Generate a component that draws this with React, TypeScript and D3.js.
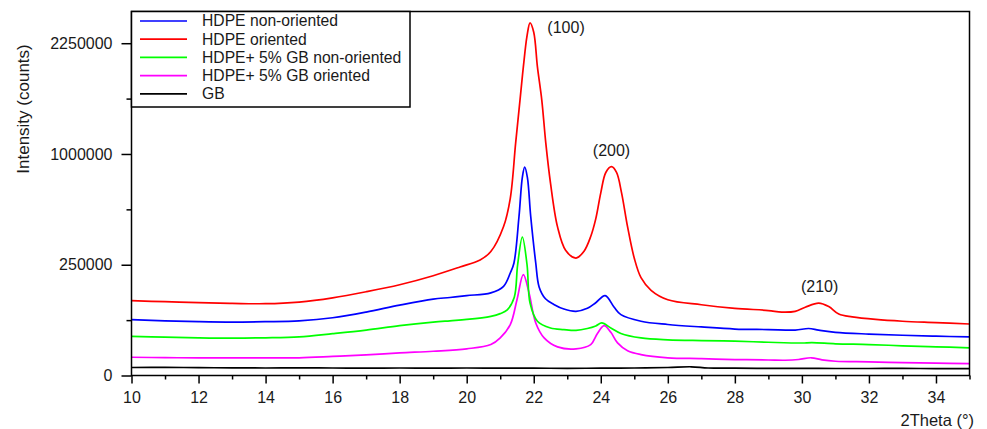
import React, { useEffect, useRef } from 'react';
import * as d3 from 'd3';

// 2Theta (°), intensity (counts)
const hdpeNonOriented: [number, number][] = [
  [10, 63600], [11, 61000], [12, 59000], [13, 58000], [14, 59000], [15, 61000], [16, 68000],
  [17, 82000], [18, 101000], [19, 119000], [19.5, 124000], [20, 130000], [20.72, 139000],
  [21.1, 162000], [21.3, 214000], [21.41, 258000], [21.56, 515000], [21.66, 800000],
  [21.73, 884000], [21.81, 800000], [21.91, 515000], [22.06, 258000], [22.16, 160000],
  [22.35, 120000], [22.6, 103000], [22.9, 90000], [23.26, 84000], [23.6, 92000], [23.85, 108000],
  [24.13, 130000], [24.4, 95000], [24.6, 75500], [25.2, 60000], [26, 53000], [27, 48000],
  [28, 44000], [29, 43000], [29.8, 42000], [30.2, 45000], [30.5, 42000], [31, 38000],
  [32, 35000], [33, 33000], [34, 31500], [35, 30400],
];

const hdpeOriented: [number, number][] = [
  [10, 114000], [11, 111000], [12, 108000], [13, 106000], [14, 105000], [15, 110000],
  [16, 123000], [17, 143000], [18, 168000], [19, 203000], [19.8, 240000], [20.4, 272000],
  [20.72, 313000], [21.1, 452000], [21.3, 640000], [21.46, 1100000], [21.59, 1546000],
  [21.69, 1940000], [21.8, 2350000], [21.89, 2534000], [22.0, 2400000], [22.11, 1940000],
  [22.24, 1546000], [22.36, 1100000], [22.5, 754000], [22.71, 450000], [22.95, 320000],
  [23.26, 281000], [23.5, 315000], [23.7, 394000], [23.85, 500000], [24.0, 680000],
  [24.15, 840000], [24.32, 889000], [24.47, 840000], [24.62, 680000], [24.8, 450000],
  [25.0, 280000], [25.2, 195000], [25.5, 148000], [26, 117000], [27, 102000], [28, 92000],
  [29, 86000], [29.4, 82000], [29.8, 84000], [30.1, 95000], [30.5, 107000], [30.8, 97000],
  [31.1, 77000], [31.5, 70000], [32.2, 64000], [33, 60000], [34, 57000], [35, 54000],
];

const gbNonOriented: [number, number][] = [
  [10, 31300], [11, 30000], [12, 29000], [13, 28500], [14, 29000], [15, 30500], [16, 35700],
  [17, 42000], [18, 50600], [19, 58000], [19.5, 61000], [20, 64000], [20.72, 71400],
  [21.0, 78000], [21.21, 88000], [21.42, 125000], [21.52, 250000], [21.66, 390000],
  [21.8, 250000], [21.89, 107000], [22.11, 60000], [22.5, 46000], [22.9, 43000],
  [23.26, 41600], [23.6, 45000], [23.85, 50000], [24.03, 56300], [24.3, 46000], [24.6, 36000],
  [25.2, 28800], [26, 26000], [27, 24800], [28, 24000], [29, 22500], [30, 21500], [30.3, 22000],
  [31, 20500], [32, 19500], [33, 18000], [34, 16800], [35, 15600],
];

const gbOriented: [number, number][] = [
  [10, 6800], [11, 6500], [12, 6300], [13, 6300], [14, 6300], [15, 6400], [16, 7400],
  [17, 8600], [18, 10400], [19, 12000], [20, 14500], [20.72, 19500], [21.0, 28900],
  [21.3, 52800], [21.5, 117000], [21.69, 207000], [21.86, 139000], [22.06, 56300],
  [22.31, 28900], [22.71, 16700], [23.26, 14500], [23.7, 19500], [23.9, 36000], [24.1, 50700],
  [24.3, 38000], [24.5, 21700], [24.8, 12500], [25.2, 8900], [26, 6400], [27, 5800], [28, 5200],
  [29, 4900], [29.5, 4750], [29.9, 5200], [30.28, 6400], [30.6, 5000], [31, 4150], [32, 3800],
  [33, 3400], [34, 3100], [35, 2900],
];

const gb: [number, number][] = [
  [10, 1300], [11, 1350], [12, 1250], [13, 1200], [14, 1150], [15, 1200], [16, 1150],
  [17, 1100], [18, 1150], [19, 1100], [20, 1150], [21, 1100], [22, 1100], [23, 1050],
  [24, 1100], [25, 1150], [26, 1300], [26.7, 1550], [27.2, 1150], [28, 1100], [29, 1050],
  [30, 1050], [31, 1000], [32, 1000], [33, 1050], [34, 950], [35, 950],
];

const seriesNames = [
  'HDPE non-oriented',
  'HDPE oriented',
  'HDPE+ 5% GB non-oriented',
  'HDPE+ 5% GB oriented',
  'GB',
];
const seriesColors = ['#0000ff', '#ff0000', '#00ff00', '#ff00ff', '#000000'];
const seriesData = [hdpeNonOriented, hdpeOriented, gbNonOriented, gbOriented, gb];

const xTicks = [10, 12, 14, 16, 18, 20, 22, 24, 26, 28, 30, 32, 34];
const xMinorTicks = [11, 13, 15, 17, 19, 21, 23, 25, 27, 29, 31, 33, 35];
const yTicks = [0, 250000, 1000000, 2250000];
const yMinorTicks = [62500, 562500, 1562500];

const peakLabels = [
  { label: '(100)', x: 21.89, y: 2534000 },
  { label: '(200)', x: 24.32, y: 889000 },
  { label: '(210)', x: 30.5, y: 107000 },
];

const App = () => {
  const chartRef = useRef<SVGSVGElement>(null);

  useEffect(() => {
    const width = 987;
    const height = 429;
    const left = 131.5;
    const right = 969.5;
    const top = 11.5;
    const bottom = 375.5;
    const font = "'Liberation Sans', Arial, sans-serif";

    const svg = d3.select(chartRef.current);
    svg.selectAll('*').remove();
    svg.attr('width', width).attr('height', height);

    const x = d3.scaleLinear().domain([10, 35]).range([left, right]);
    const y = d3.scaleSqrt().domain([0, 2700000]).range([bottom, top]);

    // curves
    const line = d3.line<[number, number]>()
      .x(d => x(d[0]))
      .y(d => y(d[1]))
      .curve(d3.curveCatmullRom.alpha(0.5));

    // draw GB first so the coloured ones sit on top
    [4, 3, 2, 0, 1].forEach(i => {
      svg.append('path')
        .datum(seriesData[i])
        .attr('fill', 'none')
        .attr('stroke', seriesColors[i])
        .attr('stroke-width', 1.7)
        .attr('stroke-linejoin', 'round')
        .attr('d', line);
    });

    // axes
    const yAxis = svg.append('g')
      .attr('transform', `translate(${left},0)`)
      .call(d3.axisLeft(y).tickValues(yTicks).tickSize(10).tickSizeOuter(0).tickPadding(9)
        .tickFormat(d => String(d)));
    svg.append('g')
      .attr('transform', `translate(${left},0)`)
      .call(d3.axisLeft(y).tickValues(yMinorTicks).tickSize(5).tickSizeOuter(0).tickFormat(() => ''));

    const xAxis = svg.append('g')
      .attr('transform', `translate(0,${bottom})`)
      .call(d3.axisBottom(x).tickValues(xTicks).tickSize(8).tickSizeOuter(0).tickPadding(8)
        .tickFormat(d => String(d)));
    svg.append('g')
      .attr('transform', `translate(0,${bottom})`)
      .call(d3.axisBottom(x).tickValues(xMinorTicks).tickSize(4).tickSizeOuter(0).tickFormat(() => ''));

    svg.selectAll('.domain').remove();
    svg.selectAll('.tick line').attr('stroke', '#000').attr('stroke-width', 1.5);
    [yAxis, xAxis].forEach(g => g.selectAll('text')
      .attr('fill', '#1a1a1a')
      .style('font-family', font)
      .style('font-size', '16px'));

    // frame
    svg.append('rect')
      .attr('x', left).attr('y', top)
      .attr('width', right - left).attr('height', bottom - top)
      .attr('fill', 'none').attr('stroke', '#000').attr('stroke-width', 1.5);

    // axis titles
    svg.append('text')
      .attr('transform', 'translate(29,109) rotate(-90)')
      .attr('text-anchor', 'middle')
      .style('font-family', font).style('font-size', '17px').attr('fill', '#1a1a1a')
      .text('Intensity (counts)');
    svg.append('text')
      .attr('x', 974).attr('y', 426)
      .attr('text-anchor', 'end')
      .style('font-family', font).style('font-size', '16.5px').attr('fill', '#1a1a1a')
      .text('2Theta (°)');

    // peak labels
    const offsets = [[36, 10], [0, -11], [1, -11]];
    peakLabels.forEach((p, i) => {
      svg.append('text')
        .attr('x', x(p.x) + offsets[i][0])
        .attr('y', y(p.y) + offsets[i][1])
        .attr('text-anchor', 'middle')
        .style('font-family', font).style('font-size', '16px').attr('fill', '#1a1a1a')
        .text(p.label);
    });

    // legend
    const legend = svg.append('g');
    legend.append('rect')
      .attr('x', left).attr('y', top)
      .attr('width', 410 - left).attr('height', 107 - top)
      .attr('fill', '#fff').attr('stroke', '#000').attr('stroke-width', 1.5);
    seriesNames.forEach((name, i) => {
      const ly = 21 + i * 18.2;
      legend.append('line')
        .attr('x1', 140).attr('x2', 187).attr('y1', ly).attr('y2', ly)
        .attr('stroke', seriesColors[i]).attr('stroke-width', 1.7);
      legend.append('text')
        .attr('x', 202).attr('y', ly).attr('dy', '0.35em')
        .style('font-family', font).style('font-size', '15.7px').attr('fill', '#1a1a1a')
        .text(name);
    });
  }, []);

  return (
    <div style={{ position: 'absolute', left: 0, top: 0 }}>
      <svg ref={chartRef}></svg>
    </div>
  );
};

export default App;
